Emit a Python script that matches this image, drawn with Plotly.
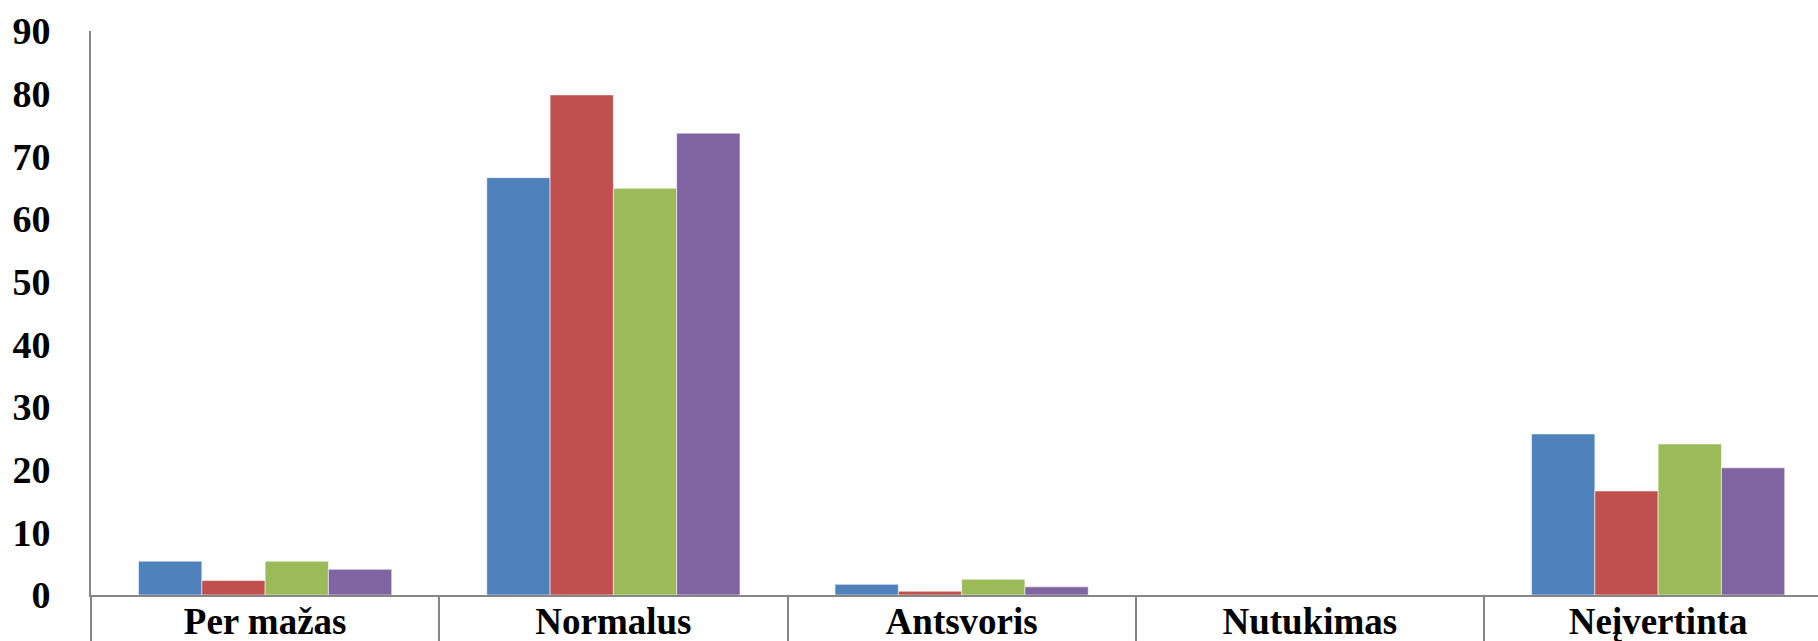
import plotly.graph_objects as go

categories = ["Per mažas", "Normalus", "Antsvoris", "Nutukimas", "Neįvertinta"]
series_names = ["1 grupė", "2 grupė", "3 grupė", "4 grupė"]
series_1 = [5.4, 66.6, 1.7, 0, 25.7]
series_2 = [2.3, 79.8, 0.6, 0, 16.6]
series_3 = [5.4, 64.9, 2.5, 0, 24.1]
series_4 = [4.1, 73.7, 1.3, 0, 20.3]
colors = ["#4F81BD", "#C0504D", "#9BBB59", "#8064A2"]
y_ticks = [0, 10, 20, 30, 40, 50, 60, 70, 80, 90]

font_family = "Times New Roman, Liberation Serif, serif"

fig = go.Figure()
for name, vals, col in zip(series_names, [series_1, series_2, series_3, series_4], colors):
    fig.add_trace(go.Bar(
        x=categories, y=vals, name=name,
        marker=dict(color=col, line=dict(color="rgba(255,255,255,0.55)", width=1)),
    ))

fig.update_layout(
    width=1818, height=641,
    margin=dict(l=91, r=0, t=31, b=46),
    paper_bgcolor="white", plot_bgcolor="white",
    barmode="group", bargap=0.273, bargroupgap=0,
    showlegend=False,
    font=dict(family=font_family, color="black"),
)
fig.update_xaxes(
    range=[-0.5, 4.459], automargin=False,
    showline=True, linecolor="#868686", linewidth=2,
    ticks="outside", tickson="boundaries", ticklen=50, tickcolor="#868686", tickwidth=2,
    tickfont=dict(family=font_family, size=37, color="black", weight="bold"),
    ticklabelstandoff=-7,
    showgrid=False, zeroline=False,
)
fig.update_yaxes(
    range=[0, 90], tickvals=y_ticks, automargin=False,
    showline=True, linecolor="#868686", linewidth=2,
    ticks="", showgrid=False, zeroline=False,
    tickfont=dict(family=font_family, size=38, color="black", weight="bold"),
    ticklabelstandoff=31,
)

fig.write_html(
    "out.html",
    config={"displayModeBar": False},
    post_script="document.documentElement.style.overflow='hidden';"
                "document.body.style.margin='0';document.body.style.overflow='hidden';",
)
